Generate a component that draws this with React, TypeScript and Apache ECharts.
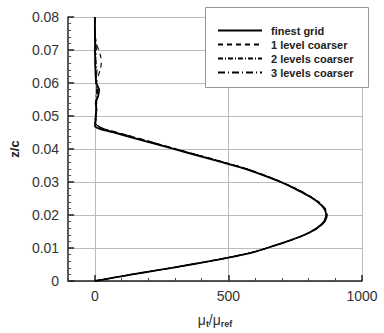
import React, { useEffect, useRef } from "react";
import * as echarts from "echarts";

const zc = [0, 0.001, 0.002, 0.003, 0.004, 0.005, 0.006, 0.007, 0.008, 0.009, 0.010, 0.012, 0.014, 0.016, 0.018, 0.020, 0.022, 0.024, 0.026, 0.028, 0.030, 0.032, 0.034, 0.036, 0.038, 0.040, 0.042, 0.044, 0.045, 0.046, 0.047, 0.048, 0.049, 0.050, 0.052, 0.054, 0.056, 0.058, 0.060, 0.062, 0.064, 0.066, 0.068, 0.070, 0.072, 0.074, 0.076, 0.078, 0.080];

const finest = [0, 70, 140, 215, 290, 360, 430, 495, 555, 605, 645, 720, 785, 830, 858, 866, 858, 833, 795, 748, 695, 632, 563, 475, 385, 295, 205, 115, 70, 22, 0, 2, 4, 3, 6, 3, 12, 16, 5, 3, 2, 1, 1, 0, 1, 0, 0, 0, 0];
const coarse1 = [0, 68, 138, 213, 288, 358, 428, 493, 553, 604, 645, 722, 788, 834, 862, 870, 862, 838, 800, 753, 700, 638, 570, 483, 395, 306, 218, 130, 85, 40, 12, 0, 2, 3, 5, 4, 8, 10, 6, 12, 20, 24, 22, 14, 6, 2, 0, 0, 0];
const coarse2 = [0, 69, 139, 214, 289, 359, 429, 494, 554, 604, 644, 721, 787, 832, 860, 868, 860, 836, 798, 751, 698, 636, 567, 480, 391, 302, 213, 125, 80, 35, 8, 0, 3, 6, 4, 7, 5, 9, 4, 6, 8, 5, 3, 2, 1, 0, 0, 0, 0];
const coarse3 = [0, 70, 140, 214, 289, 359, 429, 494, 554, 604, 645, 721, 787, 833, 861, 869, 861, 837, 799, 752, 699, 637, 569, 482, 393, 304, 216, 128, 83, 38, 10, 2, 0, 4, 8, 5, 4, 7, 9, 5, 3, 2, 4, 6, 4, 2, 1, 0, 0];

const seriesNames = ["finest grid", "1 level coarser", "2 levels coarser", "3 levels coarser"];
const xTickValues = [0, 500, 1000];

const FONT = "Liberation Sans, Arial, Helvetica, sans-serif";

export default function App() {
  const ref = useRef<HTMLDivElement>(null);
  useEffect(() => {
    if (!ref.current) return;
    const chart = echarts.init(ref.current, null, { renderer: "svg" });
    const mk = (vals: number[]) => vals.map((v, i) => [v, zc[i]]);
    const styles: any[] = [
      { width: 1.8, type: "solid" },
      { width: 1.1, type: [5, 4] },
      { width: 1.1, type: [5, 2, 1, 2] },
      { width: 1.1, type: [7, 3, 1, 3] },
    ];
    const datasets = [finest, coarse1, coarse2, coarse3];
    chart.setOption({
      animation: false,
      grid: { left: 62, right: 22, top: 17, bottom: 46, containLabel: false },
      legend: {
        orient: "vertical",
        left: 217,
        top: 25,
        itemWidth: 44,
        itemHeight: 10,
        itemGap: 3,
        padding: 0,
        z: 20,
        data: seriesNames,
        itemStyle: { opacity: 0 },
        textStyle: { fontFamily: FONT, fontWeight: "bold", fontSize: 11, color: "#222", padding: [0, 0, 0, 4] },
      },
      graphic: [
        {
          type: "rect",
          left: 205,
          top: 7,
          shape: { width: 163, height: 80 },
          style: { fill: "#fff", stroke: "#999", lineWidth: 1 },
          z: 3,
        },
      ],
      xAxis: [
        {
          type: "value",
          min: -100,
          max: 1000,
          interval: 100,
          name: "{m|μ}{s|t}{m|/μ}{s|ref}",
          nameLocation: "middle",
          nameGap: 30,
          nameTextStyle: {
            rich: {
              m: { fontFamily: FONT, fontSize: 14, color: "#333" },
              s: { fontFamily: FONT, fontSize: 9, color: "#333", fontWeight: "bold", padding: [8, 0, 0, 0] },
            },
          },
          axisLine: { show: true, onZero: false, lineStyle: { color: "#222", width: 1.5 } },
          axisTick: { show: true, inside: true, length: 6, customValues: xTickValues, lineStyle: { color: "#222", width: 1.5 } },
          axisLabel: { customValues: xTickValues, fontFamily: FONT, fontSize: 14, color: "#333", margin: 8, formatter: (v: number) => String(v) },
          splitLine: { show: true, lineStyle: { color: "#bbb", width: 1 } },
        },
        {
          type: "value",
          min: -100,
          max: 1000,
          interval: 100,
          position: "bottom",
          axisLine: { show: false, onZero: false },
          axisTick: { show: true, inside: true, length: 3, lineStyle: { color: "#444", width: 1 } },
          axisLabel: { show: false },
          splitLine: { show: false },
        },
      ],
      yAxis: {
        type: "value",
        min: 0,
        max: 0.08,
        interval: 0.01,
        name: "z/c",
        nameLocation: "middle",
        nameGap: 42,
        nameRotate: 90,
        nameTextStyle: { fontFamily: FONT, fontSize: 13, fontWeight: "bold", color: "#222" },
        axisLine: { show: true, onZero: false, lineStyle: { color: "#222", width: 1.5 } },
        axisTick: { show: true, inside: true, length: 6, lineStyle: { color: "#222", width: 1.5 } },
        minorTick: { show: true, splitNumber: 5, length: 3, lineStyle: { color: "#555", width: 1 } },
        axisLabel: {
          fontFamily: FONT,
          fontSize: 14,
          color: "#333",
          margin: 9,
          formatter: (v: number) => (v === 0 ? "0" : v.toFixed(2)),
        },
        splitLine: { show: true, lineStyle: { color: "#bbb", width: 1 } },
      },
      series: datasets.map((d, i) => ({
        name: seriesNames[i],
        type: "line",
        xAxisIndex: i === 3 ? 1 : 0,
        data: mk(d),
        showSymbol: false,
        symbol: "none",
        smooth: 0.2,
        lineStyle: { color: "#000", ...styles[i] },
        itemStyle: { color: "#000" },
        z: 2,
      })),
    });
    return () => chart.dispose();
  }, []);
  return <div ref={ref} style={{ width: 384, height: 333, position: "absolute", left: 0, top: 0, background: "#fff" }} />;
}
